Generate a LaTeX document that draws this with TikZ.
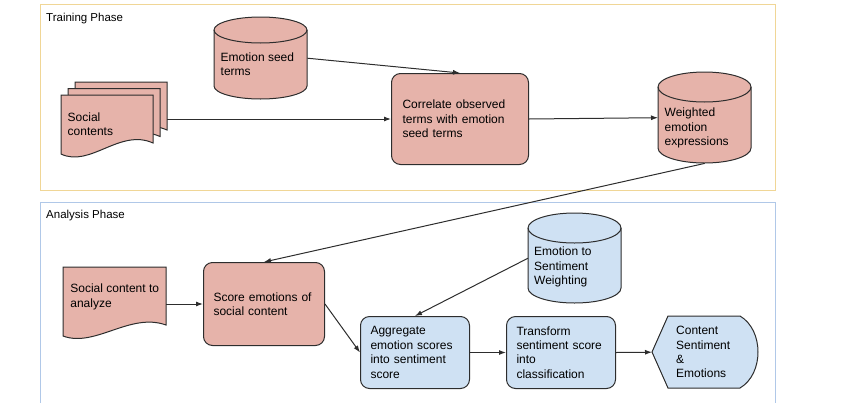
\documentclass[tikz,border=0pt]{standalone}
\usepackage{fontspec}
\setmainfont{Liberation Sans}
\usepackage{xcolor}
\usepackage{tikz}
\usetikzlibrary{arrows.meta}
\usetikzlibrary{shapes, shapes.geometric}
\usetikzlibrary{positioning}
\usetikzlibrary{calc}

\definecolor{pinkfill}{RGB}{230,179,170}
\definecolor{bluefill}{RGB}{207,225,243}
\definecolor{edgegray}{RGB}{45,45,45}
\definecolor{trainframe}{RGB}{240,214,150}
\definecolor{anaframe}{RGB}{176,200,232}

\tikzset{
  boxfont/.style={font=\fontsize{12}{14.4}\selectfont},
  outline/.style={draw=edgegray, line width=1pt},
  procbox/.style={outline, rounded corners=9pt, align=left, anchor=north west, boxfont},
  ghost/.style={inner sep=0pt, anchor=north west},
  doctext/.style={align=left, anchor=west, boxfont},
  flow/.style={draw=edgegray, line width=1pt, -{Latex[length=7pt,width=5pt]}},
  phaselabel/.style={anchor=base west, inner sep=0pt, font=\fontsize{11.5}{13}\selectfont},
}

\begin{document}
\begin{tikzpicture}[x=1pt,y=1pt,yscale=-1,xscale=1]
\useasboundingbox (0,0) rectangle (848,402);

%Shape: Rectangle [training frame]
\draw [trainframe, line width=1pt] (40,4) rectangle (775,190);
%Shape: Rectangle [analysis frame]
\draw [anaframe, line width=1pt] (40,202) rectangle (775,412);

% Text Node
\node (trainlbl) [phaselabel] at (46,21) {Training Phase};
% Text Node
\node (analbl) [phaselabel] at (46,218) {Analysis Phase};

%Shape: Multidocument [social contents]
\node (socC) [ghost, minimum width=91, minimum height=50] at (76,82) {};
\draw [fill=pinkfill, outline, shift={(14,-13)}] (61,154) -- (61,95) -- (153,95) -- (153,143) .. controls (120,128) and (90,168) .. (61,154) -- cycle ;
\draw [fill=pinkfill, outline, shift={(7,-6.5)}] (61,154) -- (61,95) -- (153,95) -- (153,143) .. controls (120,128) and (90,168) .. (61,154) -- cycle ;
\draw [fill=pinkfill, outline] (61,154) -- (61,95) -- (153,95) -- (153,143) .. controls (120,128) and (90,168) .. (61,154) -- cycle ;
% Text Node
\node (socA) [doctext, inner xsep=6.5pt] at (61,124) {Social\\contents};

%Shape: Can [emotion seed terms]
\node (seed) [ghost, minimum width=93, minimum height=82] at (214,17) {};
\draw [fill=pinkfill, outline] (214,30) -- (214,86) arc [start angle=180, end angle=0, x radius=46.5, y radius=13] -- (307,30) arc [start angle=0, end angle=-180, x radius=46.5, y radius=13] -- cycle ;
\draw [outline] (214,30) arc [start angle=180, end angle=0, x radius=46.5, y radius=13] ;
% Text Node
\node (seedtxt) [doctext, inner xsep=6.5pt] at (214,64) {Emotion seed\\terms};

%Shape: Rounded Rect [correlate]
\node (corr) [procbox, fill=pinkfill, minimum width=137, minimum height=91, inner xsep=11pt, text width=115] at (391,73) {Correlate observed\\terms with emotion\\seed terms};

%Shape: Can [weighted emotion expressions]
\node (wee) [ghost, minimum width=93, minimum height=91] at (658,72) {};
\draw [fill=pinkfill, outline] (658,87) -- (658,148) arc [start angle=180, end angle=0, x radius=46.5, y radius=15] -- (751,87) arc [start angle=0, end angle=-180, x radius=46.5, y radius=15] -- cycle ;
\draw [outline] (658,87) arc [start angle=180, end angle=0, x radius=46.5, y radius=15] ;
% Text Node
\node (weetxt) [doctext, inner xsep=6.5pt] at (658,128) {Weighted\\emotion\\expressions};

%Shape: Document [social content to analyze]
\draw [fill=pinkfill, outline] (63,336) -- (63,267) -- (166,267) -- (166,325) .. controls (130,312) and (95,348) .. (63,336) -- cycle ;
% Text Node
\node (ana) [doctext, inner xsep=6pt, minimum width=103] at (63,297) {Social content to\\analyze};

%Shape: Rounded Rect [score emotions]
\node (score) [procbox, fill=pinkfill, minimum width=121, minimum height=83, inner xsep=10pt, text width=101] at (203,262) {Score emotions of\\social content};

%Shape: Can [emotion to sentiment weighting]
\node (esw) [ghost, minimum width=93, minimum height=90] at (528,213) {};
\draw [fill=bluefill, outline] (528,228) -- (528,288) arc [start angle=180, end angle=0, x radius=46.5, y radius=15] -- (621,228) arc [start angle=0, end angle=-180, x radius=46.5, y radius=15] -- cycle ;
\draw [outline] (528,228) arc [start angle=180, end angle=0, x radius=46.5, y radius=15] ;
% Text Node
\node (eswtxt) [doctext, inner xsep=6pt] at (528,267) {Emotion to\\Sentiment\\Weighting};

%Shape: Rounded Rect [aggregate]
\node (agg) [procbox, fill=bluefill, minimum width=109, minimum height=72, inner xsep=10pt, text width=89] at (360,316) {Aggregate\\emotion scores\\into sentiment\\score};

%Shape: Rounded Rect [transform]
\node (trans) [procbox, fill=bluefill, minimum width=109, minimum height=72, inner xsep=10pt, text width=89] at (506,316) {Transform\\sentiment score\\into\\classification};

%Shape: Display [content sentiment]
\draw [fill=bluefill, outline] (652,352) -- (668,316) -- (740,316) .. controls (764,330) and (764,374) .. (740,388) -- (668,388) -- cycle ;
% Text Node
\node (disp) [ghost, align=left, boxfont, minimum width=105, minimum height=72, inner xsep=24pt, text width=57] at (652,316) {Content\\Sentiment\\\&\\Emotions};

%Straight Lines [connectors]
\draw [flow] (corr.west -| socC.east) -- (corr.west) ;
\draw [flow] (seed.east) -- (corr.north) ;
\draw [flow] (corr.east) -- (wee.west) ;
\draw [flow] (wee.south) -- (score.north) ;
\draw [flow] (score.west -| ana.east) -- (score.west) ;
\draw [flow] (score.east) -- (agg.west) ;
\draw [flow] (esw.west) -- (agg.north) ;
\draw [flow] (agg.east) -- (trans.west) ;
\draw [flow] (trans.east) -- (disp.west) ;

\end{tikzpicture}
\end{document}
